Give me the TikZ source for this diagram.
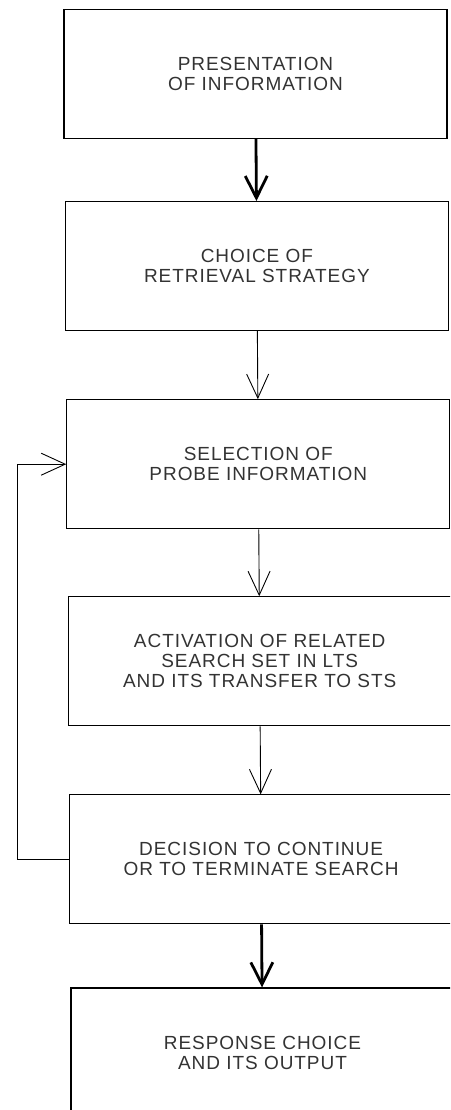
\documentclass[tikz,border=0pt]{standalone}
\usepackage{fontspec}
\setmainfont{Liberation Sans}[LetterSpace=5]
\usepackage{tikz}
\usetikzlibrary{positioning}
\usetikzlibrary{arrows.meta}

\begin{document}
\begin{tikzpicture}
    [node distance = 62pt,
      stage/.style={rectangle, draw=black, line width=1.1pt, minimum width=383pt, minimum height=129pt, inner sep=0pt, align=center, font=\fontsize{19pt}{20pt}\selectfont, text=black!80},
      tarc/.style={-{Straight Barb[length=24pt, width=22pt]}, line width=0.9pt},
      barc/.style={-{Straight Barb[length=22pt, width=22pt]}, line width=2.8pt}]

    \useasboundingbox (0,0) rectangle (450pt,-1110pt);
    \clip (0,0) rectangle (450pt,-1110pt);

    \node (pres) at (255.5pt,-74pt) [stage] {PRESENTATION\\OF INFORMATION};
    \node (choice) [below=of pres, xshift=1.4pt] [stage] {CHOICE OF\\RETRIEVAL STRATEGY};
    \node (probe) [below=68pt of choice, xshift=1.4pt] [stage] {SELECTION OF\\PROBE INFORMATION};
    \node (activ) [below=67pt of probe, xshift=1.4pt] [stage] {ACTIVATION OF RELATED\\SEARCH SET IN LTS\\AND ITS TRANSFER TO STS};
    \node (decide) [below=68pt of activ, xshift=1.4pt] [stage] {DECISION TO CONTINUE\\OR TO TERMINATE SEARCH};
    \node (resp) [below=63pt of decide, xshift=1.4pt] [stage] {RESPONSE CHOICE\\AND ITS OUTPUT};

    \draw[barc] (pres) to (choice);
    \draw[tarc] (choice) to (probe);
    \draw[tarc] (probe) to (activ);
    \draw[tarc] (activ) to (decide);
    \draw[barc] (decide) to (resp);
    \draw[tarc] (decide.west) -- ++(-52pt,0) |- (probe.west);
  \end{tikzpicture}
\end{document}
